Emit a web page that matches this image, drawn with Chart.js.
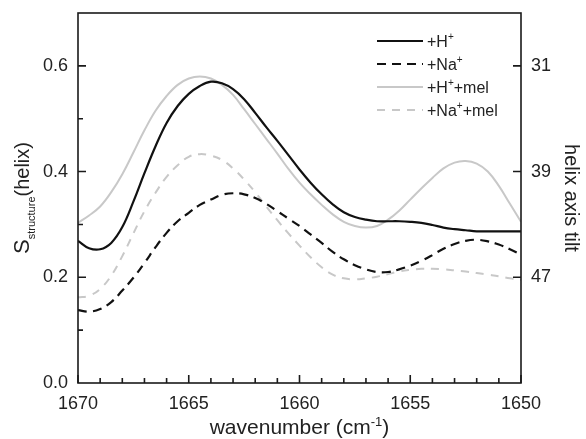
<!DOCTYPE html>
<html>
<head>
<meta charset="utf-8">
<script src="https://cdn.jsdelivr.net/npm/chart.js@4.4.1/dist/chart.umd.min.js"></script>
<style>
html, body { margin: 0; padding: 0; background: #fff; }
#wrap { width: 586px; height: 439px; }
</style>
</head>
<body>
<div id="wrap"><canvas id="chart" width="586" height="439"></canvas></div>
<script>
// wavenumber (cm-1), every 0.5
var wavenumber = [1670, 1669.5, 1669, 1668.5, 1668, 1667.5, 1667, 1666.5, 1666, 1665.5,
  1665, 1664.5, 1664, 1663.5, 1663, 1662.5, 1662, 1661.5, 1661, 1660.5,
  1660, 1659.5, 1659, 1658.5, 1658, 1657.5, 1657, 1656.5, 1656, 1655.5,
  1655, 1654.5, 1654, 1653.5, 1653, 1652.5, 1652, 1651.5, 1651, 1650.5, 1650];

var hPlus = [0.269, 0.255, 0.253, 0.265, 0.295, 0.343, 0.397, 0.448, 0.492, 0.524,
  0.547, 0.562, 0.570, 0.567, 0.556, 0.537, 0.511, 0.484, 0.458, 0.431,
  0.404, 0.379, 0.357, 0.338, 0.323, 0.314, 0.309, 0.306, 0.306, 0.306,
  0.305, 0.303, 0.299, 0.294, 0.291, 0.289, 0.287, 0.287, 0.287, 0.287, 0.287];

var naPlus = [0.138, 0.135, 0.140, 0.153, 0.175, 0.199, 0.227, 0.257, 0.284, 0.306,
  0.322, 0.337, 0.347, 0.356, 0.359, 0.357, 0.350, 0.339, 0.325, 0.311,
  0.297, 0.281, 0.265, 0.248, 0.234, 0.223, 0.215, 0.210, 0.210, 0.215,
  0.222, 0.231, 0.242, 0.254, 0.263, 0.269, 0.271, 0.268, 0.262, 0.253, 0.243];

var hPlusMel = [0.303, 0.317, 0.334, 0.361, 0.395, 0.436, 0.478, 0.515, 0.543, 0.564,
  0.576, 0.580, 0.576, 0.564, 0.545, 0.518, 0.490, 0.462, 0.434, 0.405,
  0.379, 0.357, 0.337, 0.319, 0.305, 0.297, 0.294, 0.297, 0.309, 0.326,
  0.347, 0.368, 0.388, 0.406, 0.417, 0.420, 0.415, 0.400, 0.373, 0.339, 0.305];

var naPlusMel = [0.162, 0.165, 0.178, 0.203, 0.240, 0.283, 0.325, 0.360, 0.390, 0.412,
  0.428, 0.433, 0.430, 0.422, 0.406, 0.385, 0.361, 0.334, 0.308, 0.283,
  0.260, 0.238, 0.219, 0.205, 0.198, 0.196, 0.198, 0.201, 0.206, 0.211,
  0.214, 0.216, 0.216, 0.215, 0.213, 0.211, 0.208, 0.205, 0.202, 0.198, 0.195];

var xTicks = [1670, 1665, 1660, 1655, 1650];
var sTicks = [0, 0.2, 0.4, 0.6];
var tiltTicks = [31, 39, 47];

var seriesNames = ['+H+', '+Na+', '+H+ +mel', '+Na+ +mel'];

var FONT = '"Liberation Sans", Arial, sans-serif';

var pts = (arr) => wavenumber.map((w, i) => ({ x: w, y: arr[i] }));

// draw text runs [text, size, dy]
var richText = (ctx, parts, x, y, align) => {
  let w = 0;
  parts.forEach(p => { ctx.font = p[1] + 'px ' + FONT; w += ctx.measureText(p[0]).width; });
  let cx = align === 'left' ? x : x - w / 2;
  ctx.textAlign = 'left';
  ctx.textBaseline = 'alphabetic';
  parts.forEach(p => {
    ctx.font = p[1] + 'px ' + FONT;
    ctx.fillText(p[0], cx, y + p[2]);
    cx += ctx.measureText(p[0]).width;
  });
};

var legendParts = (name) => {
  let bits = name.split(' ');
  let base = bits[0].slice(0, -1);
  let out = [[base, 16, 0], ['+', 10, -7]];
  if (bits[1]) out.push([bits[1], 16, 0]);
  return out;
};

var noPad = (s) => { s.paddingTop = 0; s.paddingBottom = 0; s.paddingLeft = 0; s.paddingRight = 0; };

var frame = {
  id: 'frame',
  afterDraw: (chart) => {
    let ctx = chart.ctx, a = chart.chartArea;
    let xs = chart.scales.x, ys = chart.scales.y, y2 = chart.scales.y2;
    ctx.save();
    ctx.strokeStyle = '#1a1a1a';
    ctx.lineWidth = 1.6;
    ctx.strokeRect(a.left, a.top, a.right - a.left, a.bottom - a.top);

    ctx.beginPath();
    for (let v = 1650; v <= 1670; v++) {
      let px = xs.getPixelForValue(v);
      let len = v % 5 === 0 ? 8 : 5;
      ctx.moveTo(px, a.bottom); ctx.lineTo(px, a.bottom - len);
    }
    for (let k = 1; k <= 6; k++) {
      let py = ys.getPixelForValue(k / 10);
      let len = k % 2 === 0 ? 8 : 5;
      ctx.moveTo(a.left, py); ctx.lineTo(a.left + len, py);
    }
    tiltTicks.forEach(t => {
      let py = y2.getPixelForValue(t);
      ctx.moveTo(a.right, py); ctx.lineTo(a.right - 8, py);
    });
    ctx.stroke();

    // legend
    ctx.fillStyle = '#222';
    chart.data.datasets.forEach((ds, i) => {
      let ly = 41 + i * 23;
      ctx.beginPath();
      ctx.strokeStyle = ds.borderColor;
      ctx.lineWidth = ds.borderWidth;
      ctx.setLineDash(ds.borderDash || []);
      ctx.moveTo(377, ly); ctx.lineTo(423, ly);
      ctx.stroke();
      ctx.setLineDash([]);
      richText(ctx, legendParts(seriesNames[i]), 427, ly + 6, 'left');
    });

    // axis titles
    ctx.fillStyle = '#222';
    richText(ctx, [['wavenumber (cm', 21, 0], ['-1', 13, -8], [')', 21, 0]], (a.left + a.right) / 2, 434);

    ctx.save();
    ctx.translate(29, (a.top + a.bottom) / 2);
    ctx.rotate(-Math.PI / 2);
    richText(ctx, [['S', 22, 0], ['structure', 11, 6], ['(helix)', 20, 0]], 0, 0);
    ctx.restore();

    ctx.save();
    ctx.translate(565, (a.top + a.bottom) / 2);
    ctx.rotate(Math.PI / 2);
    richText(ctx, [['helix axis tilt', 20, 0]], 0, 0);
    ctx.restore();

    ctx.restore();
  }
};

var ctxL = document.getElementById('chart').getContext('2d');
var myChart = new Chart(ctxL, {
  type: 'line',
  data: {
    datasets: [{
      label: seriesNames[0],
      data: pts(hPlus),
      borderColor: '#111',
      borderWidth: 2.2
    },
    {
      label: seriesNames[1],
      data: pts(naPlus),
      borderColor: '#111',
      borderWidth: 2.2,
      borderDash: [9, 6]
    },
    {
      label: seriesNames[2],
      data: pts(hPlusMel),
      borderColor: '#c8c8c8',
      borderWidth: 2
    },
    {
      label: seriesNames[3],
      data: pts(naPlusMel),
      borderColor: '#c8c8c8',
      borderWidth: 2,
      borderDash: [8, 7]
    }]
  },
  options: {
    responsive: false,
    animation: false,
    devicePixelRatio: 1,
    layout: { padding: { top: 13, left: 0, right: 0, bottom: 0 } },
    elements: {
      point: { radius: 0 },
      line: { tension: 0.4, fill: false }
    },
    plugins: {
      legend: { display: false },
      tooltip: { enabled: false }
    },
    scales: {
      x: {
        type: 'linear',
        reverse: true,
        min: 1650,
        max: 1670,
        afterBuildTicks: (s) => { s.ticks = xTicks.map(v => ({ value: v })); },
        afterFit: (s) => { s.height = 56; noPad(s); },
        grid: { display: false, drawTicks: false },
        border: { display: false },
        ticks: { color: '#222', padding: 10, maxRotation: 0, font: { size: 18, family: FONT }, callback: (v) => String(v) }
      },
      y: {
        position: 'left',
        min: 0,
        max: 0.7,
        afterBuildTicks: (s) => { s.ticks = sTicks.map(v => ({ value: v })); },
        afterFit: (s) => { s.width = 78; noPad(s); },
        grid: { display: false, drawTicks: false },
        border: { display: false },
        ticks: { color: '#222', padding: 10, font: { size: 18, family: FONT }, callback: (v) => v.toFixed(1) }
      },
      y2: {
        position: 'right',
        reverse: true,
        min: 27,
        max: 55,
        afterBuildTicks: (s) => { s.ticks = tiltTicks.map(v => ({ value: v })); },
        afterFit: (s) => { s.width = 65; noPad(s); },
        grid: { display: false, drawTicks: false },
        border: { display: false },
        ticks: { color: '#222', padding: 10, font: { size: 18, family: FONT } }
      }
    }
  },
  plugins: [frame]
});
</script>
</body>
</html>
